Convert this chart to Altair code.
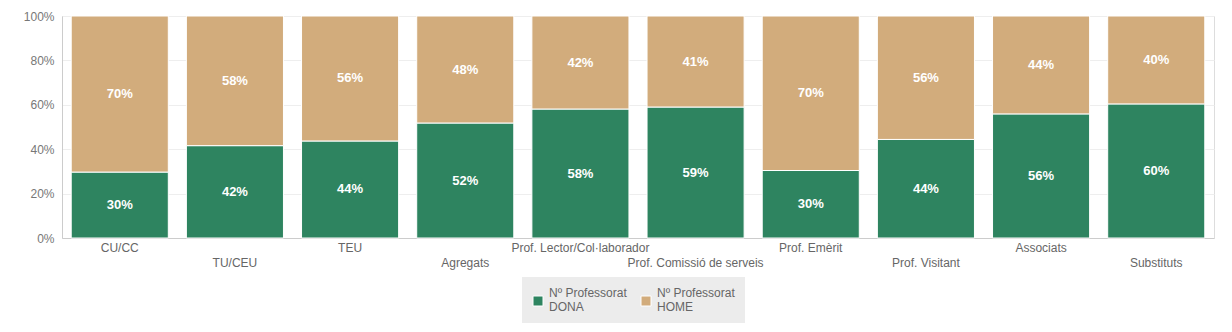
import altair as alt
import pandas as pd

categories = ["CU/CC", "TU/CEU", "TEU", "Agregats", "Prof. Lector/Col·laborador",
              "Prof. Comissió de serveis", "Prof. Emèrit", "Prof. Visitant", "Associats", "Substituts"]
dona = [29.7, 41.6, 43.7, 51.8, 58.1, 59.0, 30.4, 44.4, 55.9, 60.4]
home = [70.3, 58.4, 56.3, 48.2, 41.9, 41.0, 69.6, 55.6, 44.1, 39.6]
series = ["Nº Professorat DONA", "Nº Professorat HOME"]
colors = ["#2e8460", "#d2ac7c"]
lower_row = ["TU/CEU", "Agregats", "Prof. Comissió de serveis", "Prof. Visitant", "Substituts"]

rows = []
for i, c in enumerate(categories):
    rows.append({"cat": c, "serie": series[0], "pct": dona[i], "ord": 0})
    rows.append({"cat": c, "serie": series[1], "pct": home[i], "ord": 1})
df = pd.DataFrame(rows)

FONT = "Liberation Sans"
lower_js = "[" + ",".join("'" + s + "'" for s in lower_row) + "]"

base = alt.Chart(df).transform_stack(
    stack="pct", groupby=["cat"], as_=["y0", "y1"], offset="normalize",
    sort=[alt.SortField("ord", order="ascending")]
).transform_calculate(
    mid="(datum.y0 + datum.y1) / 2",
    lbl="format(round(datum.pct), 'd') + '%'"
)

xenc = alt.X("cat:N", sort=categories,
             scale=alt.Scale(paddingInner=0.157, paddingOuter=0.08),
             axis=alt.Axis(title=None, labelAngle=0, ticks=False, labelOverlap=False,
                           labelBound=False, domainColor="#cccccc", labelColor="#666666",
                           labelFontSize=12, labelPadding=4, labelLineHeight=15,
                           labelFont=FONT,
                           labelExpr="indexof(" + lower_js + ", datum.value) >= 0 ? ['', datum.label] : datum.label"))

bars = base.mark_bar(stroke="white", strokeWidth=1).encode(
    x=xenc,
    y=alt.Y("y0:Q", scale=alt.Scale(domain=[0, 1], nice=False),
            axis=alt.Axis(format="%", title=None, values=[0, 0.2, 0.4, 0.6, 0.8, 1.0],
                          ticks=False, domainColor="#cccccc", gridColor="#eeeeee",
                          labelColor="#777777", labelFontSize=12, labelPadding=8, labelFont=FONT)),
    y2="y1:Q",
    color=alt.Color("serie:N", scale=alt.Scale(domain=series, range=colors),
                    legend=alt.Legend(title=None, orient="none", legendX=460, legendY=261,
                                      direction="horizontal", fillColor="#ececec", padding=10,
                                      symbolType="M-1,0.6H1V2.6H-1Z", symbolSize=100,
                                      symbolStrokeColor="white", symbolStrokeWidth=1,
                                      labelFontSize=12, labelColor="#666666", labelFont=FONT,
                                      columnPadding=12, labelOffset=5,
                                      labelExpr="datum.label == 'Nº Professorat HOME' ? ['Nº Professorat\u00a0\u00a0\u00a0', 'HOME'] : ['Nº Professorat', replace(datum.label, 'Nº Professorat ', '')]")),
    order=alt.Order("ord:Q")
)

texts = base.mark_text(color="white", fontWeight="bold", fontSize=13, font=FONT).encode(
    x=alt.X("cat:N", sort=categories),
    y=alt.Y("mid:Q"),
    text="lbl:N"
)

chart = alt.layer(bars, texts).properties(
    width=1152, height=222,
    autosize=alt.AutoSizeParams(type="none"),
    padding={"left": 62, "top": 16, "right": 18, "bottom": 94}
).configure_view(stroke=None).configure(font=FONT)

chart.save("out.html", embed_options={"renderer": "svg", "actions": False})
